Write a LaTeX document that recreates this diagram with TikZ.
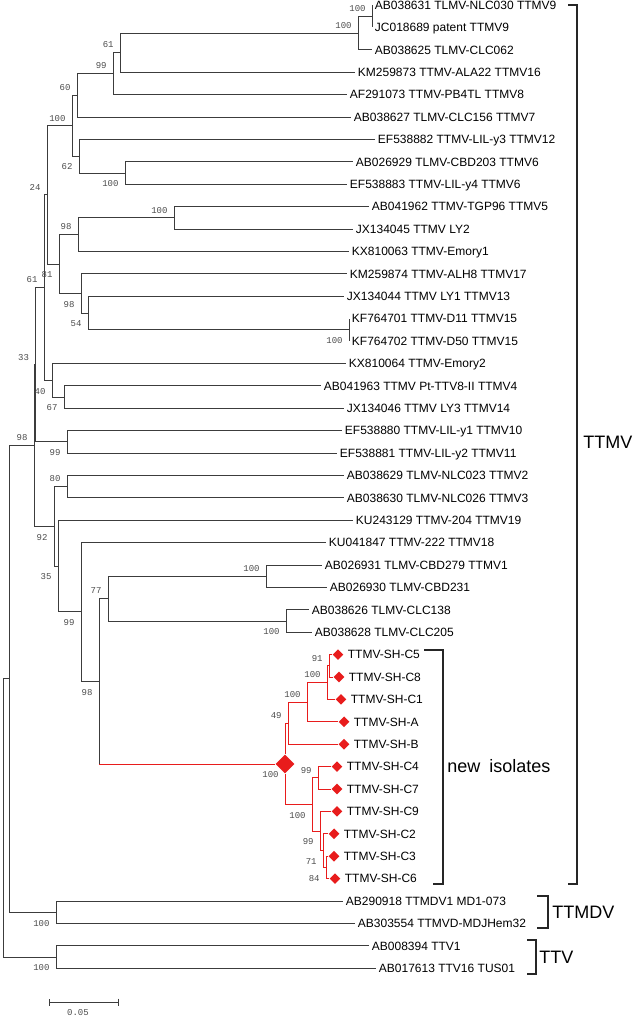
\documentclass[tikz,border=0pt]{standalone}
\usepackage{fontspec}
\setmainfont{Liberation Sans}
\newfontfamily\bsfont{Liberation Mono}
\usetikzlibrary{shapes.geometric,positioning,arrows.meta}
\definecolor{isored}{RGB}{232,28,28}
\definecolor{branch}{RGB}{60,60,60}

\begin{document}
\begin{tikzpicture}[x=1pt,y=-1pt,
  color=branch, line width=0.9pt,
  leaf/.style={anchor=west,inner xsep=2.5pt,inner ysep=0pt,text=black,font=\fontsize{12}{12}\selectfont,text height=8.6pt,text depth=0pt},
  tip/.style={diamond,fill=isored,draw=none,minimum width=11pt,minimum height=11pt,inner sep=0pt},
  hub/.style={tip,minimum width=19pt,minimum height=19pt},
  redbr/.style={draw=isored},
  bs/.style={anchor=east,inner sep=0pt,text=black!70,font=\bsfont\fontsize{9}{9}\selectfont,text height=5.6pt,text depth=0pt,xshift=-6pt},
  bsa/.style={bs,yshift=7.5pt},
  bsb/.style={bs,yshift=-11pt},
  clade/.style={anchor=west,inner sep=0pt,text=black,font=\fontsize{18}{18}\selectfont,text height=13pt,text depth=0pt},
  bracket/.style={line width=1.2pt,black!85}
]
  \useasboundingbox (0,0) rectangle (640,1019);

  % leaves
  \node[leaf] (l1) at (372,5) {AB038631 TLMV-NLC030 TTMV9};
  \node[leaf] (l2) at (372,27.4) {JC018689 patent TTMV9};
  \node[leaf] (l3) at (372,49.8) {AB038625 TLMV-CLC062};
  \node[leaf] (l4) at (355,72.2) {KM259873 TTMV-ALA22 TTMV16};
  \node[leaf] (l5) at (347,94.6) {AF291073 TTMV-PB4TL TTMV8};
  \node[leaf] (l6) at (351,117) {AB038627 TLMV-CLC156 TTMV7};
  \node[leaf] (l7) at (375,139.4) {EF538882 TTMV-LIL-y3 TTMV12};
  \node[leaf] (l8) at (353,161.8) {AB026929 TLMV-CBD203 TTMV6};
  \node[leaf] (l9) at (347,184.2) {EF538883 TTMV-LIL-y4 TTMV6};
  \node[leaf] (l10) at (369,206.6) {AB041962 TTMV-TGP96 TTMV5};
  \node[leaf] (l11) at (353,229) {JX134045 TTMV LY2};
  \node[leaf] (l12) at (349,251.4) {KX810063 TTMV-Emory1};
  \node[leaf] (l13) at (347,273.8) {KM259874 TTMV-ALH8 TTMV17};
  \node[leaf] (l14) at (344,296.2) {JX134044 TTMV LY1 TTMV13};
  \node[leaf] (l15) at (349,318.6) {KF764701 TTMV-D11 TTMV15};
  \node[leaf] (l16) at (349,341) {KF764702 TTMV-D50 TTMV15};
  \node[leaf] (l17) at (346,363.4) {KX810064 TTMV-Emory2};
  \node[leaf] (l18) at (321,385.8) {AB041963 TTMV Pt-TTV8-II TTMV4};
  \node[leaf] (l19) at (344,408.2) {JX134046 TTMV LY3 TTMV14};
  \node[leaf] (l20) at (342,430.6) {EF538880 TTMV-LIL-y1 TTMV10};
  \node[leaf] (l21) at (337,453) {EF538881 TTMV-LIL-y2 TTMV11};
  \node[leaf] (l22) at (344,475.4) {AB038629 TLMV-NLC023 TTMV2};
  \node[leaf] (l23) at (344,497.8) {AB038630 TLMV-NLC026 TTMV3};
  \node[leaf] (l24) at (353,520.2) {KU243129 TTMV-204 TTMV19};
  \node[leaf] (l25) at (326,542.6) {KU041847 TTMV-222 TTMV18};
  \node[leaf] (l26) at (322,565) {AB026931 TLMV-CBD279 TTMV1};
  \node[leaf] (l27) at (327,587.4) {AB026930 TLMV-CBD231};
  \node[leaf] (l28) at (309,609.8) {AB038626 TLMV-CLC138};
  \node[leaf] (l29) at (312,632.2) {AB038628 TLMV-CLC205};
  \node[leaf] (l41) at (343,901) {AB290918 TTMDV1 MD1-073};
  \node[leaf] (l42) at (355,923.4) {AB303554 TTMVD-MDJHem32};
  \node[leaf] (l43) at (369,945.8) {AB008394 TTV1};
  \node[leaf] (l44) at (376,968.2) {AB017613 TTV16 TUS01};

  % new isolates
  \node[tip] (s1) at (338,654.6) {};
  \node[tip] (s2) at (339,677) {};
  \node[tip] (s3) at (341,699.4) {};
  \node[tip] (s4) at (344,721.8) {};
  \node[tip] (s5) at (344,744.2) {};
  \node[tip] (s6) at (337,766.6) {};
  \node[tip] (s7) at (337,789) {};
  \node[tip] (s8) at (337,811.4) {};
  \node[tip] (s9) at (334,833.8) {};
  \node[tip] (s10) at (334,856.2) {};
  \node[tip] (s11) at (335,878.6) {};
  \node[leaf,right=1pt of s1] (t1) {TTMV-SH-C5};
  \node[leaf,right=1pt of s2] (t2) {TTMV-SH-C8};
  \node[leaf,right=1pt of s3] (t3) {TTMV-SH-C1};
  \node[leaf,right=1pt of s4] (t4) {TTMV-SH-A};
  \node[leaf,right=1pt of s5] (t5) {TTMV-SH-B};
  \node[leaf,right=1pt of s6] (t6) {TTMV-SH-C4};
  \node[leaf,right=1pt of s7] (t7) {TTMV-SH-C7};
  \node[leaf,right=1pt of s8] (t8) {TTMV-SH-C9};
  \node[leaf,right=1pt of s9] (t9) {TTMV-SH-C2};
  \node[leaf,right=1pt of s10] (t10) {TTMV-SH-C3};
  \node[leaf,right=1pt of s11] (t11) {TTMV-SH-C6};

  % inner nodes
  \coordinate (k1) at (372,16.2);
  \coordinate (k2) at (358,33);
  \coordinate (n61) at (120,52.6);
  \coordinate (n99a) at (113,73.6);
  \coordinate (n60) at (77,95.3);
  \coordinate (k3) at (125,173);
  \coordinate (n62) at (79,156.2);
  \coordinate (n100) at (72,125.8);
  \coordinate (k4) at (174,217.8);
  \coordinate (n98a) at (78,234.6);
  \coordinate (k5) at (349,329.8);
  \coordinate (n54) at (88,313);
  \coordinate (n98b) at (81,293.4);
  \coordinate (n81) at (59,264);
  \coordinate (n24) at (47,194.9);
  \coordinate (k6) at (64,397);
  \coordinate (n40) at (52,380.2);
  \coordinate (n61b) at (44,287.5);
  \coordinate (k7) at (67,441.8);
  \coordinate (n33) at (35.5,364.7);
  \coordinate (k8) at (67,486.6);
  \coordinate (k9) at (266,576.2);
  \coordinate (k10) at (286,621);
  \coordinate (n77) at (108,598.6);
  \coordinate (r91) at (329,665.8);
  \coordinate (r100b) at (327,682.6);
  \coordinate (r100a) at (307,702.2);
  \coordinate (r49) at (288,723.2);
  \coordinate (r99a) at (318,777.8);
  \coordinate (r84) at (326,867.4);
  \coordinate (r71) at (323,850.6);
  \coordinate (r99b) at (320,831);
  \coordinate (r100c) at (312,804.4);
  \node[hub] (rroot) at (285,764) {};
  \coordinate (elbow) at (99,764);
  \coordinate (n98d) at (99,681.2);
  \coordinate (n99c) at (81,611.9);
  \coordinate (n35) at (58,566);
  \coordinate (n92) at (54,526.3);
  \coordinate (n98c) at (34,445.5);
  \coordinate (k11) at (56,912.2);
  \coordinate (k12) at (56,957);
  \coordinate (nb) at (9,678.9);
  \coordinate (root) at (3,818);

  % branches
  \draw (k1) |- (l1); \draw (k1) |- (l2);
  \draw (k2) |- (k1); \draw (k2) |- (l3);
  \draw (n61) |- (k2); \draw (n61) |- (l4);
  \draw (n99a) |- (n61); \draw (n99a) |- (l5);
  \draw (n60) |- (n99a); \draw (n60) |- (l6);
  \draw (k3) |- (l8); \draw (k3) |- (l9);
  \draw (n62) |- (l7); \draw (n62) |- (k3);
  \draw (n100) |- (n60); \draw (n100) |- (n62);
  \draw (k4) |- (l10); \draw (k4) |- (l11);
  \draw (n98a) |- (k4); \draw (n98a) |- (l12);
  \draw (k5) |- (l15); \draw (k5) |- (l16);
  \draw (n54) |- (l14); \draw (n54) |- (k5);
  \draw (n98b) |- (l13); \draw (n98b) |- (n54);
  \draw (n81) |- (n98a); \draw (n81) |- (n98b);
  \draw (n24) |- (n100); \draw (n24) |- (n81);
  \draw (k6) |- (l18); \draw (k6) |- (l19);
  \draw (n40) |- (l17); \draw (n40) |- (k6);
  \draw (n61b) |- (n24); \draw (n61b) |- (n40);
  \draw (k7) |- (l20); \draw (k7) |- (l21);
  \draw (n33) |- (n61b); \draw (n33) |- (k7);
  \draw (k8) |- (l22); \draw (k8) |- (l23);
  \draw (k9) |- (l26); \draw (k9) |- (l27);
  \draw (k10) |- (l28); \draw (k10) |- (l29);
  \draw (n77) |- (k9); \draw (n77) |- (k10);
  \draw (n98d) |- (n77); \draw (n98d) -- (elbow);
  \draw[redbr] (elbow) -- (rroot);
  \draw[redbr] (rroot) |- (r49); \draw[redbr] (rroot) |- (r100c);
  \draw[redbr] (r49) |- (r100a); \draw[redbr] (r49) |- (s5);
  \draw[redbr] (r100a) |- (r100b); \draw[redbr] (r100a) |- (s4);
  \draw[redbr] (r100b) |- (r91); \draw[redbr] (r100b) |- (s3);
  \draw[redbr] (r91) |- (s1); \draw[redbr] (r91) |- (s2);
  \draw[redbr] (r100c) |- (r99a); \draw[redbr] (r100c) |- (r99b);
  \draw[redbr] (r99a) |- (s6); \draw[redbr] (r99a) |- (s7);
  \draw[redbr] (r99b) |- (s8); \draw[redbr] (r99b) |- (r71);
  \draw[redbr] (r71) |- (s9); \draw[redbr] (r71) |- (r84);
  \draw[redbr] (r84) |- (s10); \draw[redbr] (r84) |- (s11);
  \draw (n99c) |- (l25); \draw (n99c) |- (n98d);
  \draw (n35) |- (l24); \draw (n35) |- (n99c);
  \draw (n92) |- (k8); \draw (n92) |- (n35);
  \draw (n98c) |- (n33); \draw (n98c) |- (n92);
  \draw (k11) |- (l41); \draw (k11) |- (l42);
  \draw (k12) |- (l43); \draw (k12) |- (l44);
  \draw (nb) |- (n98c); \draw (nb) |- (k11);
  \draw (root) |- (nb); \draw (root) |- (k12);

  % bootstrap values
  \node[bsa] (bsk1) at (k1) {100};
  \node[bsa] (bsk2) at (k2) {100};
  \node[bsa] (bsn61) at (n61) {61};
  \node[bsa] (bsn99a) at (n99a) {99};
  \node[bsa] (bsn60) at (n60) {60};
  \node[bsa] (bsn100) at (n100) {100};
  \node[bsb] (bsk3) at (k3) {100};
  \node[bsb] (bsn62) at (n62) {62};
  \node[bsa] (bsn24) at (n24) {24};
  \node[bsa] (bsk4) at (k4) {100};
  \node[bsa] (bsn98a) at (n98a) {98};
  \node[bsb] (bsn81) at (n81) {81};
  \node[bsb] (bsn98b) at (n98b) {98};
  \node[bsb] (bsn54) at (n54) {54};
  \node[bsb] (bsk5) at (k5) {100};
  \node[bsa] (bsn61b) at (n61b) {61};
  \node[bsa] (bsn33) at (n33) {33};
  \node[bsb] (bsn40) at (n40) {40};
  \node[bsb] (bsk6) at (k6) {67};
  \node[bsb] (bsk7) at (k7) {99};
  \node[bsa] (bsn98c) at (n98c) {98};
  \node[bsa] (bsk8) at (k8) {80};
  \node[bsb] (bsn92) at (n92) {92};
  \node[bsb] (bsn35) at (n35) {35};
  \node[bsb] (bsn99c) at (n99c) {99};
  \node[bsa] (bsn77) at (n77) {77};
  \node[bsa] (bsk9) at (k9) {100};
  \node[bsb] (bsk10) at (k10) {100};
  \node[bsb] (bsn98d) at (n98d) {98};
  \node[bsb] (bsroot) at (rroot.center) {100};
  \node[bsa] (bsr49) at (r49) {49};
  \node[bsa] (bsr100a) at (r100a) {100};
  \node[bsa] (bsr100b) at (r100b) {100};
  \node[bsa] (bsr91) at (r91) {91};
  \node[bsa] (bsr99a) at (r99a) {99};
  \node[bsb] (bsr100c) at (r100c) {100};
  \node[bsb] (bsr99b) at (r99b) {99};
  \node[bsb] (bsr71) at (r71) {71};
  \node[bsb] (bsr84) at (r84) {84};
  \node[bsb] (bsk11) at (k11) {100};
  \node[bsb] (bsk12) at (k12) {100};

  % clade brackets
  \draw[bracket] (568,5) -- (577,5) -- (577,884) -- (568,884);
  \draw[bracket] (424,650) -- (443,650) -- (443,884) -- (433,884);
  \draw[bracket] (537,896) -- (548,896) -- (548,928) -- (537,928);
  \draw[bracket] (527,940) -- (536,940) -- (536,974) -- (527,974);
  \node[clade] (ttmv) at (583,442) {TTMV};
  \node[clade] (newiso) at (447,766) {new\hspace{4pt} isolates};
  \node[clade] (ttmdv) at (552,912) {TTMDV};
  \node[clade] (ttv) at (539,957) {TTV};

  % scale bar
  \coordinate (sb1) at (49,1002);
  \coordinate (sb2) at (119,1002);
  \draw[{Bar[width=7pt]}-{Bar[width=7pt]}] (sb1) -- (sb2);
  \node[bs,anchor=center,xshift=0pt] (sblab) at (84,1013) {0.05};
\end{tikzpicture}
\end{document}
